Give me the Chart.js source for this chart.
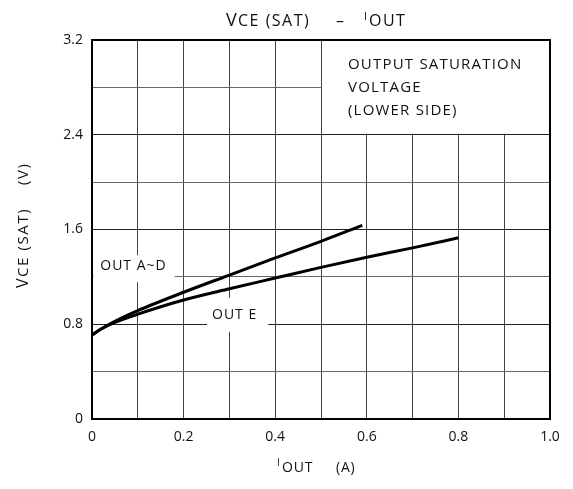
<!DOCTYPE html>
<html>
<head>
<meta charset="utf-8">
<script src="https://cdn.jsdelivr.net/npm/chart.js@4"></script>
<style>
  html, body { margin: 0; padding: 0; background: #fff; }
  #wrap { width: 573px; height: 489px; }
</style>
</head>
<body>
<div id="wrap"><canvas id="c" width="573" height="489"></canvas></div>
<script>
// Output current (A) and saturation voltage (V) for each output group
const outAD_I = [0, 0.02, 0.05, 0.1, 0.2, 0.3, 0.4, 0.5, 0.59];
const outAD_V = [0.71, 0.76, 0.825, 0.915, 1.07, 1.215, 1.36, 1.50, 1.635];
const outE_I  = [0, 0.02, 0.05, 0.1, 0.2, 0.3, 0.4, 0.5, 0.6, 0.7, 0.8];
const outE_V  = [0.71, 0.76, 0.815, 0.885, 1.005, 1.10, 1.19, 1.28, 1.365, 1.445, 1.53];

// Axis tick labels
const xTickLabels = ['0', '0.2', '0.4', '0.6', '0.8', '1.0'];
const yTickLabels = ['0', '0.8', '1.6', '2.4', '3.2'];

// Curve labels, anchored in data units (left edge, vertical centre)
const curveLabels = [
  { text: 'OUT A~D', x: 0.018, y: 1.29, pad: [8, 8, 11, 16] },
  { text: 'OUT E',   x: 0.262, y: 0.88, pad: [5, 11, 17, 17] }
];
const noteLines = ['OUTPUT SATURATION', 'VOLTAGE', '(LOWER SIDE)'];

const FONT = '"Open Sans", "DejaVu Sans", sans-serif';
const pts = (xs, ys) => xs.map((v, i) => ({ x: v, y: ys[i] }));

function font(size) { return size + 'px ' + FONT; }

// Draw text pieces at given positions with their own sizes/offsets
function drawPieces(ctx, pieces, base, spacing) {
  ctx.save();
  ctx.textAlign = 'left';
  ctx.textBaseline = 'alphabetic';
  if ('letterSpacing' in ctx) ctx.letterSpacing = spacing + 'px';
  for (const p of pieces) {
    ctx.font = font(p.size);
    ctx.fillText(p.t, p.x, base - (p.dy || 0));
  }
  ctx.restore();
}

const decorations = {
  id: 'decorations',
  beforeDatasetsDraw(chart) {
    const { ctx, chartArea: a, scales: { x, y } } = chart;
    ctx.save();
    ctx.fillStyle = '#fff';
    // note panel in the upper right cell block
    const bx0 = x.getPixelForValue(0.5) + 1;
    const by1 = y.getPixelForValue(2.4) - 1;
    ctx.fillRect(bx0, a.top + 1, a.right - 1 - bx0, by1 - a.top - 1);

    ctx.font = font(14);
    if ('letterSpacing' in ctx) ctx.letterSpacing = '1px';
    for (const l of curveLabels) {
      const lx = x.getPixelForValue(l.x);
      const ly = y.getPixelForValue(l.y);
      const w = ctx.measureText(l.text).width;
      const [pl, pr, pt, pb] = l.pad;
      const left = Math.max(a.left + 1.5, lx - pl);
      ctx.fillStyle = '#fff';
      ctx.fillRect(left, ly - pt, lx + w + pr - left, pt + pb);
      ctx.fillStyle = '#111';
      ctx.textBaseline = 'middle';
      ctx.fillText(l.text, lx, ly);
    }

    // note text
    ctx.fillStyle = '#111';
    ctx.font = font(15);
    if ('letterSpacing' in ctx) ctx.letterSpacing = '1.2px';
    ctx.textBaseline = 'middle';
    const nx = bx0 + 26;
    noteLines.forEach((t, i) => ctx.fillText(t, nx, a.top + 25 + i * 23));

    // top and right frame
    ctx.strokeStyle = '#000';
    ctx.lineWidth = 2;
    ctx.beginPath();
    ctx.moveTo(a.left, a.top);
    ctx.lineTo(a.right, a.top);
    ctx.lineTo(a.right, a.bottom);
    ctx.stroke();
    ctx.restore();
  },
  afterDraw(chart) {
    const { ctx } = chart;
    ctx.save();
    ctx.fillStyle = '#111';
    // chart title
    drawPieces(ctx, [
      { t: 'V', size: 18, x: 226 },
      { t: 'CE (SAT)', size: 16, x: 238 },
      { t: '–', size: 16, x: 336 },
      { t: 'I', size: 11, x: 364, dy: 6 },
      { t: 'OUT', size: 16, x: 369 }
    ], 26, 1.5);

    // x axis title
    drawPieces(ctx, [
      { t: 'I', size: 10, x: 277, dy: 6 },
      { t: 'OUT', size: 14, x: 282 },
      { t: '(A)', size: 14, x: 336 }
    ], 472, 0.8);

    // y axis title (rotated)
    ctx.translate(28, 288);
    ctx.rotate(-Math.PI / 2);
    drawPieces(ctx, [
      { t: 'V', size: 16, x: 0 },
      { t: 'CE (SAT)', size: 15, x: 11 },
      { t: '(V)', size: 15, x: 103 }
    ], 0, 1.6);
    ctx.restore();
  }
};

new Chart(document.getElementById('c'), {
  type: 'line',
  data: {
    datasets: [
      { label: 'OUT A~D', data: pts(outAD_I, outAD_V) },
      { label: 'OUT E', data: pts(outE_I, outE_V) }
    ]
  },
  options: {
    responsive: false,
    animation: false,
    devicePixelRatio: 1,
    layout: { padding: { left: 0, top: 40, right: 23, bottom: 0 } },
    elements: {
      line: { borderColor: '#000', borderWidth: 3, tension: 0.4, cubicInterpolationMode: 'monotone' },
      point: { radius: 0, hoverRadius: 0 }
    },
    plugins: { legend: { display: false }, tooltip: { enabled: false } },
    scales: {
      x: {
        type: 'linear', min: 0, max: 1,
        afterFit(s) { s.height = 70; },
        grid: { color: '#444', lineWidth: 1, drawTicks: false },
        border: { color: '#000', width: 2 },
        ticks: {
          stepSize: 0.1, padding: 10, color: '#111',
          font: { family: FONT, size: 14 },
          callback: (v, i) => (i % 2 === 0 ? xTickLabels[i / 2] : '')
        }
      },
      y: {
        type: 'linear', min: 0, max: 3.2,
        afterFit(s) { s.width = 92; },
        grid: { color: (c) => (c.index % 2 === 0 ? '#222' : '#666'), lineWidth: 1, drawTicks: false },
        border: { color: '#000', width: 2 },
        ticks: {
          stepSize: 0.4, padding: 9, color: '#111',
          font: { family: FONT, size: 14 },
          callback: (v, i) => (i % 2 === 0 ? yTickLabels[i / 2] : '')
        }
      }
    }
  },
  plugins: [decorations]
});
</script>
</body>
</html>
